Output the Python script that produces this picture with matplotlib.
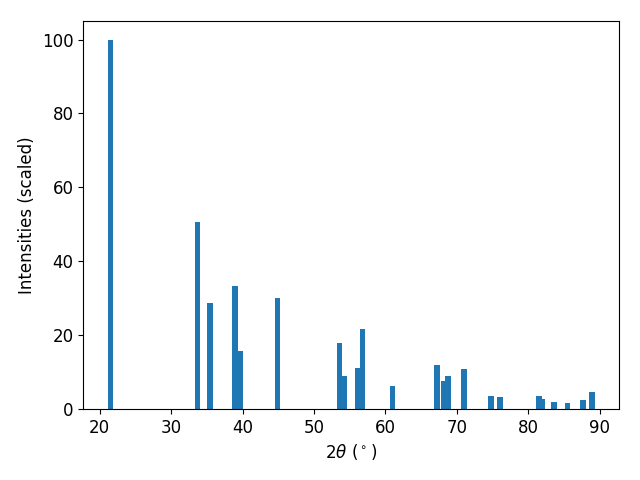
import matplotlib
matplotlib.use("Agg")
import matplotlib.pyplot as plt

# peak positions (2theta, degrees) and scaled intensities
two_theta = [21.5, 33.7, 35.4, 38.9, 39.65, 44.9, 53.6, 54.2, 56.2, 56.8,
             61.0, 67.2, 68.2, 68.8, 71.0, 74.8, 76.1, 81.5, 81.9, 83.6,
             85.5, 87.7, 88.9]
intensities = [100.0, 50.7, 28.7, 33.3, 15.7, 30.1, 17.9, 9.0, 11.1, 21.7,
               6.2, 11.9, 7.6, 9.0, 10.8, 3.5, 3.2, 3.5, 2.6, 1.9,
               1.6, 2.4, 4.6]

plt.rcParams['font.size'] = 12

fig, ax = plt.subplots(figsize=(6.4, 4.8), dpi=100)
ax.bar(two_theta, intensities, width=0.8, color='#1f77b4')
ax.set_xlabel(r"$2\theta$ ($^\circ$)")
ax.set_ylabel("Intensities (scaled)")

fig.subplots_adjust(left=0.130, right=0.967, top=0.956, bottom=0.148)
fig.savefig("out.png")
